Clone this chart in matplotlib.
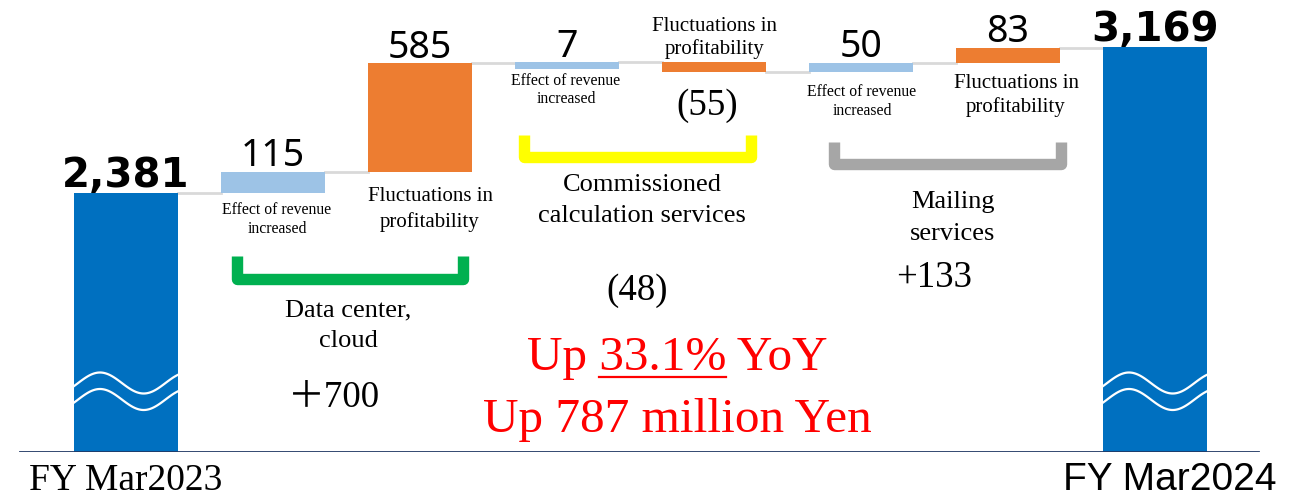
import numpy as np
import matplotlib.pyplot as plt
from matplotlib.lines import Line2D
from matplotlib.transforms import blended_transform_factory

# values in million yen
start_label = 'FY Mar2023'
end_label = 'FY Mar2024'
start_value = 2381
end_value = 3169
step_values = [115, 585, 7, -55, 50, 83]
step_kinds = ['revenue', 'profit', 'revenue', 'profit', 'revenue', 'profit']
step_labels = ['115', '585', '7', '(55)', '50', '83']
segment_names = [['Data center,', 'cloud'],
                 ['Commissioned', 'calculation services'],
                 ['Mailing', 'services']]
segment_totals = ['＋700', '(48)', '+133']
yoy_pct = '33.1%'
yoy_amount = 787

W, H = 1291, 500
BLUE = '#0070c0'
LIGHT = '#9dc3e6'
ORANGE = '#ed7d31'
SERIF = 'Liberation Serif'

fig = plt.figure(figsize=(W / 100, H / 100), dpi=100)
ax = fig.add_axes([0, 48 / H, 1, 452 / H])
ax.set_xlim(-126 / 147, (W - 126) / 147)
floor = 983  # broken axis, bars start here
ax.set_ylim(floor, 3423)
ax.axis('off')
bw = 104 / 147


def px_text(x, y, s, size, family=SERIF, **kw):
    # x, y in image pixels (y from the top), y is the baseline
    return fig.text(x / W, 1 - y / H, s, fontsize=size, family=family,
                    ha='center', va='baseline', **kw)


# total bars
n = len(step_values)
for x, v in [(0, start_value), (n + 1, end_value)]:
    ax.bar(x, v - floor, bottom=floor, width=bw, color=BLUE, zorder=2)
    ax.annotate(f'{v:,}', (x, v), xytext=(0, 4), textcoords='offset points',
                ha='center', va='baseline', fontsize=29, fontweight='bold',
                family='DejaVu Sans')

# step bars
levels = start_value + np.concatenate([[0], np.cumsum(step_values)])
min_h = 40
for i, v in enumerate(step_values):
    x = i + 1
    hi = max(levels[i], levels[i + 1])
    h = max(abs(v), min_h)
    col = LIGHT if step_kinds[i] == 'revenue' else ORANGE
    ax.bar(x, h, bottom=hi - h, width=bw, color=col, zorder=2)
    if v > 0:
        ax.annotate(step_labels[i], (x, hi), xytext=(0, 4),
                    textcoords='offset points', ha='center', va='baseline',
                    fontsize=27, family='Noto Sans')
    else:
        ax.annotate(step_labels[i], (x, hi - h), xytext=(-5, -11.5),
                    textcoords='offset points', ha='center', va='top',
                    fontsize=26.6, family=SERIF)

# connectors
for i in range(n + 1):
    ax.plot([i + bw / 2, i + 1 - bw / 2], [levels[i], levels[i]],
            color='#d9d9d9', lw=2, zorder=1)

# wave marks on the broken bars
tr = blended_transform_factory(ax.transData, fig.transFigure)
f = np.linspace(0, 1, 80)
for x in [0, n + 1]:
    xs = x - bw / 2 + f * bw
    for c in [383, 399.5]:
        ys = c - 10.5 * np.sin(2 * np.pi * (f - 0.04) / 0.84)
        ax.plot(xs, 1 - ys / H, color='white', lw=1.6, transform=tr, zorder=3)

# base line
ax.axhline(floor, xmin=20 / W, xmax=1258 / W, color='#203864', lw=2, zorder=4)

# bar captions
eff = ['Effect of revenue', 'increased']
flu = ['Fluctuations in', 'profitability']
for (cx, y0, y1) in [(277, 214, 233), (566, 85, 103), (862, 96, 115)]:
    px_text(cx, y0, eff[0], 11.3)
    px_text(cx, y1, eff[1], 11.3)
for (cx, y0, y1) in [(430, 201, 227), (715, 31, 54), (1016, 88, 112)]:
    px_text(cx, y0, flu[0], 15)
    px_text(cx, y1, flu[1], 15)

# segment brackets
brackets = [((236.5, 462.5), 256, 278.5, '#00b050'),
            ((524, 751.5), 135, 157, '#ffff00'),
            ((834, 1061), 142, 164, '#a6a6a6')]
for (x0, x1), yt, yb, col in brackets:
    xs = np.array([x0, x0, x1, x1]) / W
    ys = 1 - np.array([yt, yb, yb, yt]) / H
    fig.add_artist(Line2D(xs, ys, color=col, lw=8.2,
                          solid_joinstyle='round', solid_capstyle='butt'))

seg_pos = [(348, 316, 347, 334, 407), (642, 191, 222, 637, 300),
           (953, 208, 240, 934, 287)]
for (cx, y0, y1, tx, ty), name, tot in zip(seg_pos, segment_names, segment_totals):
    px_text(cx, y0, name[0], 19)
    px_text(cx, y1, name[1], 19)
    px_text(tx, ty, tot, 26.6, family=[SERIF, 'Noto Sans CJK JP'])

# year-on-year note
red = '#ff0000'
t1 = px_text(677, 370, f'Up {yoy_pct} YoY', 35.5, color=red)
px_text(677, 432, f'Up {yoy_amount} million Yen', 35.5, color=red)
fig.canvas.draw()
r = fig.canvas.get_renderer()


def text_w(s):
    t = fig.text(0, 0, s, fontsize=35.5, family=SERIF)
    w = t.get_window_extent(r).width
    t.remove()
    return w


bb = t1.get_window_extent(r)
x_end = bb.x0 + text_w(f'Up {yoy_pct}')
x_start = x_end - text_w(yoy_pct)
fig.add_artist(Line2D([x_start / W, x_end / W], [1 - 377 / H] * 2,
                      color=red, lw=1.6))

# year labels
px_text(126, 490, start_label, 27)
px_text(1170, 490, end_label, 28, family='Liberation Sans')

fig.savefig('out.png', dpi=100)
